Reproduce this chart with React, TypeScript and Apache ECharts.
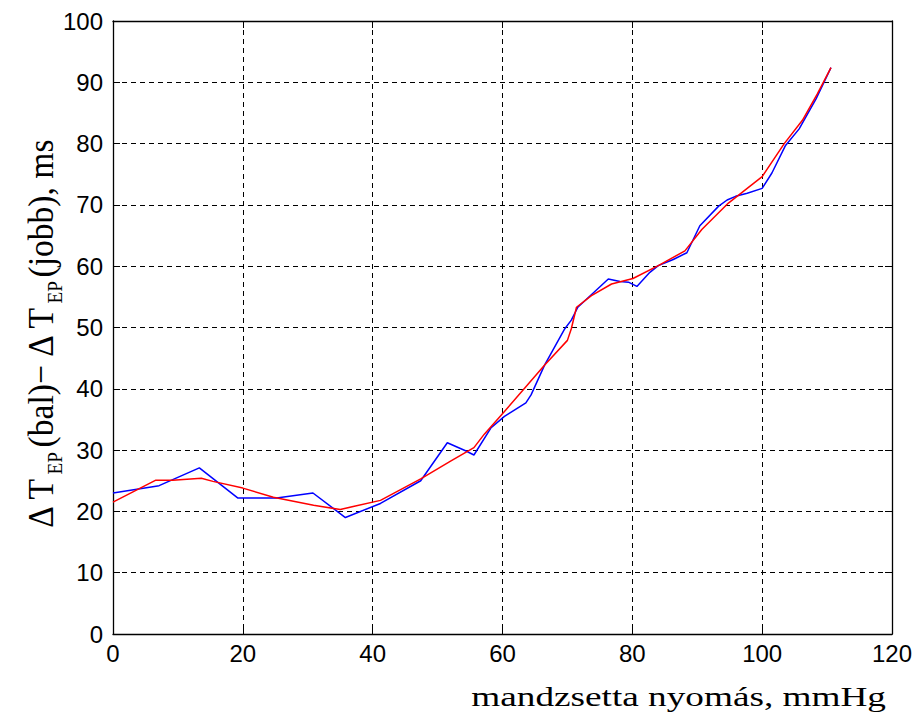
import React, { useEffect, useRef } from "react";
import * as echarts from "echarts";

// Measured curve (blue) and smoothed fit (red)
const measuredX = [0, 7.1, 13.3, 19.2, 25.2, 30.8, 35.8, 41.2, 47.4, 51.5, 54.3, 55.6, 58.2, 60.3, 63.6, 64.4, 66.5, 69.6, 70.6, 71.6, 76.3, 78.1, 79.4, 80.7, 82.7, 84.0, 86.3, 88.4, 90.4, 93.3, 94.6, 95.9, 97.7, 100.0, 101.5, 103.6, 105.7, 108.3, 110.6];
const measuredY = [23.0, 24.2, 27.1, 22.2, 22.2, 23.0, 19.0, 21.3, 25.0, 31.2, 29.9, 29.2, 33.6, 35.5, 37.7, 39.0, 43.9, 49.8, 51.2, 53.3, 57.9, 57.5, 57.4, 56.7, 59.0, 60.1, 61.1, 62.2, 66.6, 69.8, 70.8, 71.4, 71.9, 72.7, 75.2, 79.7, 82.4, 87.3, 92.4];

const fitX = [0, 6.6, 9.2, 13.6, 15.4, 20.0, 24.7, 30.9, 35.0, 37.0, 41.2, 47.4, 52.0, 55.6, 57.2, 60.3, 63.4, 66.5, 70.0, 70.6, 71.4, 73.7, 76.8, 80.1, 84.0, 88.1, 90.7, 94.8, 100.0, 103.4, 106.2, 108.5, 110.6];
const fitY = [21.5, 25.1, 25.1, 25.4, 24.9, 23.8, 22.3, 21.0, 20.3, 20.8, 21.8, 25.3, 28.2, 30.4, 32.6, 36.3, 40.1, 43.9, 47.9, 49.8, 53.3, 55.2, 57.1, 58.0, 60.1, 62.5, 66.0, 70.3, 74.6, 80.0, 83.8, 88.1, 92.4];

const xTicks = { min: 0, max: 120, interval: 20 };
const yTicks = { min: 0, max: 100, interval: 10 };

const xTitle = "mandzsetta nyomás, mmHg";

const zip = (xs: number[], ys: number[]) => xs.map((x, i) => [x, ys[i]]);

const SERIF = "'Liberation Serif', 'Times New Roman', serif";

export default function App() {
  const ref = useRef<HTMLDivElement>(null);

  useEffect(() => {
    if (!ref.current) return;
    const chart = echarts.init(ref.current, null, { renderer: "svg" });
    const tickFont = {
      color: "#000",
      fontFamily: "'Liberation Sans Narrow', 'Arial Narrow', 'Liberation Sans', sans-serif",
      fontSize: 24,
    };
    const dash = { color: "#000", width: 1, type: [5, 4] as number[] };
    const frameAxis = { show: true, onZero: false, lineStyle: { color: "#000", width: 1.3 } };
    const tick = { show: true, inside: true, length: 7, lineStyle: { color: "#000" } };

    chart.setOption({
      animation: false,
      backgroundColor: "#fff",
      grid: { left: 113, right: 28, top: 21, bottom: 79, containLabel: false },
      xAxis: [
        {
          type: "value", ...xTicks, position: "bottom",
          axisLine: frameAxis,
          axisTick: tick,
          axisLabel: { ...tickFont, margin: 7 },
          splitLine: { show: true, lineStyle: dash },
        },
        {
          type: "value", ...xTicks, position: "top",
          axisLine: frameAxis,
          axisTick: tick,
          axisLabel: { show: false },
          splitLine: { show: false },
        },
      ],
      yAxis: [
        {
          type: "value", ...yTicks, position: "left",
          axisLine: frameAxis,
          axisTick: tick,
          axisLabel: { ...tickFont, margin: 10 },
          splitLine: { show: true, lineStyle: dash },
        },
        {
          type: "value", ...yTicks, position: "right",
          axisLine: frameAxis,
          axisTick: tick,
          axisLabel: { show: false },
          splitLine: { show: false },
        },
      ],
      graphic: [
        {
          // rotated y-axis title with EP subscripts
          type: "text",
          x: 44,
          y: 334,
          rotation: Math.PI / 2,
          scaleX: 1.2,
          scaleY: 1.3,
          style: {
            text: "{m|Δ T}{s|EP}{m|(bal)− Δ T}{s|EP}{m|(jobb), ms}",
            align: "center",
            verticalAlign: "middle",
            fill: "#000",
            fontFamily: SERIF,
            fontSize: 28,
            rich: {
              m: { fontFamily: SERIF, fontSize: 28, verticalAlign: "top", lineHeight: 32 },
              s: { fontFamily: SERIF, fontSize: 16, verticalAlign: "bottom", lineHeight: 16, padding: [0, 3, 0, 3] },
            },
          },
        },
        {
          type: "text",
          x: 886,
          y: 697,
          scaleX: 1.38,
          style: {
            text: xTitle,
            align: "right",
            verticalAlign: "middle",
            fill: "#000",
            fontFamily: SERIF,
            fontSize: 27,
          },
        },
      ],
      series: [
        {
          type: "line",
          data: zip(measuredX, measuredY),
          showSymbol: false,
          lineStyle: { color: "#0000ff", width: 1.5 },
          itemStyle: { color: "#0000ff" },
        },
        {
          type: "line",
          data: zip(fitX, fitY),
          showSymbol: false,
          lineStyle: { color: "#ff0000", width: 1.5 },
          itemStyle: { color: "#ff0000" },
        },
      ],
    });
    return () => chart.dispose();
  }, []);

  return (
    <div
      ref={ref}
      style={{ position: "fixed", left: 0, top: 0, width: 920, height: 713 }}
    />
  );
}
